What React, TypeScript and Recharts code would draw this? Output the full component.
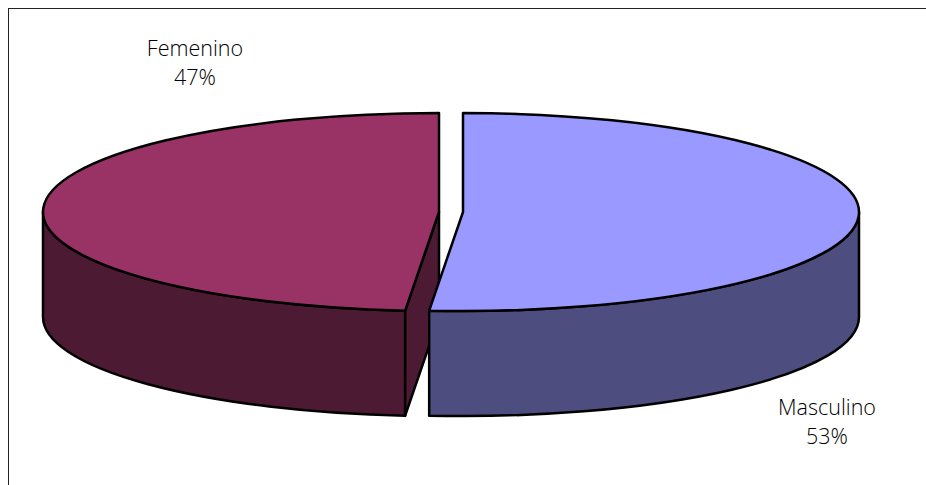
import React from "react";
import { PieChart, Pie } from "recharts";

const categories = ["Femenino", "Masculino"];
const shares = [47, 53];
const topColors = ["#993366", "#9999FF"];
const sideColors = ["#4D1A33", "#4D4D80"];

const WIDTH = 918;
const HEIGHT = 477;
const RX = 396;
const SQUASH = 99 / 396;
const DEPTH = 105;
const EXPLODE = 12;
const STROKE = "#000000";
// Excel's 3-D projection pulls the true slice boundary towards the bottom of the ellipse.
const DRAWN_BOUNDARY = 184.9;
const LABEL_OFFSETS = [
  { dx: -256, dy: -156 },
  { dx: 376, dy: 203 },
];

const tableData = categories.map((name, i) => ({
  name,
  value: shares[i],
  top: topColors[i],
  side: sideColors[i],
}));

const trueBoundary = (shares[1] / (shares[0] + shares[1])) * 360;

const warp = (deg: number) =>
  deg <= trueBoundary
    ? (deg / trueBoundary) * DRAWN_BOUNDARY
    : DRAWN_BOUNDARY + ((deg - trueBoundary) / (360 - trueBoundary)) * (360 - DRAWN_BOUNDARY);

const rad = (deg: number) => (deg * Math.PI) / 180;

function Slice3D(props: any) {
  const { cx, cy, outerRadius, startAngle, endAngle, payload } = props;
  const sweep = Math.abs(startAngle - endAngle);
  const raw = Math.round((((90 - startAngle) % 360) + 360) % 360 * 1e6) / 1e6;
  const start = raw >= 360 ? 0 : raw;
  const a = warp(start);
  const b = warp(start + sweep);
  const mid = (a + b) / 2;
  const ox = cx + EXPLODE * Math.sign(Math.sin(rad(mid)));
  const ry = outerRadius * SQUASH;
  const pt = (deg: number, drop = 0) => ({
    x: ox + outerRadius * Math.sin(rad(deg)),
    y: cy - ry * Math.cos(rad(deg)) + drop,
  });
  const P = (p: { x: number; y: number }) => `${p.x} ${p.y}`;
  const parts: React.ReactNode[] = [];
  const common = { stroke: STROKE, strokeWidth: 2.5, strokeLinejoin: "round" as const };

  const va = Math.max(a, 90);
  const vb = Math.min(b, 270);
  if (vb > va) {
    const large = vb - va > 180 ? 1 : 0;
    parts.push(
      <path
        key="wall"
        fill={payload.side}
        {...common}
        d={`M${P(pt(va))} A${outerRadius} ${ry} 0 ${large} 1 ${P(pt(vb))} L${P(pt(vb, DEPTH))} A${outerRadius} ${ry} 0 ${large} 0 ${P(pt(va, DEPTH))} Z`}
      />
    );
  }
  const face = (deg: number, key: string) => {
    const p = pt(deg);
    const q = pt(deg, DEPTH);
    return (
      <path
        key={key}
        fill={payload.side}
        {...common}
        d={`M${ox} ${cy} L${P(p)} L${P(q)} L${ox} ${cy + DEPTH} Z`}
      />
    );
  };
  if (a > 180 && a < 360) parts.push(face(a, "startFace"));
  if (b > 0 && b < 180) parts.push(face(b, "endFace"));
  parts.push(
    <path
      key="top"
      fill={payload.top}
      {...common}
      d={`M${ox} ${cy} L${P(pt(a))} A${outerRadius} ${ry} 0 ${b - a > 180 ? 1 : 0} 1 ${P(pt(b))} Z`}
    />
  );
  return <g>{parts}</g>;
}

function SliceLabel(props: any) {
  const { cx, cy, index, name, value } = props;
  const off = LABEL_OFFSETS[index];
  const x = cx + off.dx;
  const y = cy + off.dy;
  return (
    <text
      x={x}
      y={y}
      textAnchor="middle"
      fill="#000000"
      fontFamily="'Open Sans', sans-serif"
      fontSize={21.5}
      fontWeight={300}
    >
      <tspan x={x} dy={0}>{name}</tspan>
      <tspan x={x} dy={28.5}>{`${value}%`}</tspan>
    </text>
  );
}

const rotation = 90 - trueBoundary;

export default function App() {
  return (
    <div
      style={{
        position: "fixed",
        left: 8,
        top: 8,
        width: WIDTH,
        height: HEIGHT,
        borderTop: "1.5px solid #222222",
        borderLeft: "1.5px solid #222222",
        boxSizing: "border-box",
        overflow: "hidden",
        background: "#fff",
      }}
    >
      <PieChart width={WIDTH} height={HEIGHT} margin={{ top: 0, right: 0, bottom: 0, left: 0 }}>
        <Pie
          data={tableData}
          dataKey="value"
          nameKey="name"
          cx={442}
          cy={203}
          innerRadius={0}
          outerRadius={RX}
          startAngle={rotation}
          endAngle={rotation - 360}
          stroke="none"
          isAnimationActive={false}
          shape={Slice3D}
          label={SliceLabel}
          labelLine={false}
        />
      </PieChart>
    </div>
  );
}
